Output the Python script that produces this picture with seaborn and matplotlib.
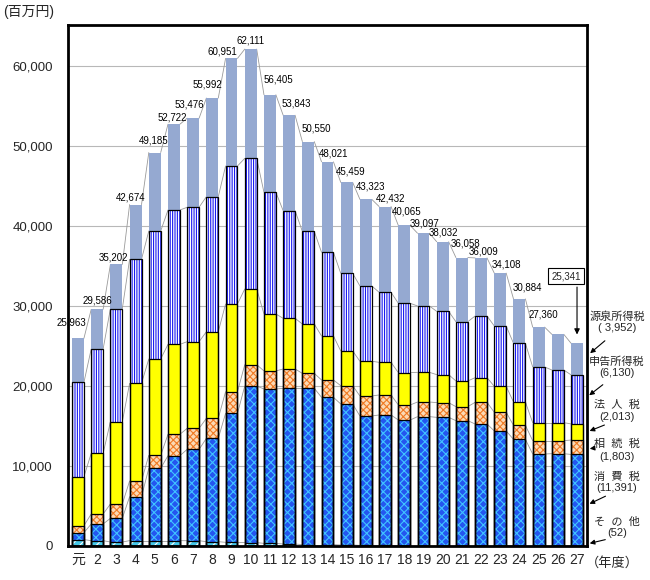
import numpy as np
import matplotlib.pyplot as plt
import seaborn as sns

# fiscal years (平成)
years = ['元', '2', '3', '4', '5', '6', '7', '8', '9', '10', '11', '12', '13', '14',
         '15', '16', '17', '18', '19', '20', '21', '22', '23', '24', '25', '26', '27']

# 百万円, bottom -> top
sonota = [800, 670, 500, 670, 670, 670, 660, 540, 460, 420, 330, 250, 170, 170,
          125, 80, 70, 60, 60, 60, 60, 60, 60, 55, 55, 55, 52]
shohi = [870, 2080, 2960, 5500, 9040, 10620, 11420, 12920, 16120, 19580, 19300, 19460, 19540, 18410,
         17625, 16170, 16310, 15690, 16110, 16020, 15610, 15190, 14320, 13275, 11445, 11485, 11391]
sozoku = [870, 1250, 1790, 1960, 1620, 2670, 2630, 2500, 2710, 2670, 2250, 2420, 1870, 2170,
          2290, 2500, 2500, 1880, 1830, 1840, 1750, 2710, 2330, 1750, 1670, 1630, 1803]
hojin = [6130, 7580, 10290, 12200, 12050, 11250, 10830, 10830, 10960, 9460, 7120, 6330, 6170, 5500,
         4340, 4340, 4080, 4040, 3710, 3500, 3210, 3080, 3250, 2920, 2250, 2250, 2013]
shinkoku = [11790, 13050, 14130, 15510, 16000, 16790, 16800, 16880, 17250, 16330, 15210, 13460, 11580, 10460,
            9710, 9410, 8750, 8670, 8290, 7910, 7410, 7710, 7540, 7330, 6960, 6580, 6130]
gensen = [5503, 4956, 5532, 6834, 9805, 10722, 11136, 12322, 13451, 13651, 12195, 11923, 11220, 11311,
          11369, 10823, 10722, 9725, 9097, 8702, 8018, 7259, 6608, 5554, 4980, 4460, 3952]

names = ['その他', '消費税', '相続税', '法人税', '申告所得税', '源泉所得税']
legend_names = ['そ  の  他', '消  費  税', '相  続  税', '法  人  税', '申告所得税', '源泉所得税']

sns.set_theme(style='white')
plt.rcParams['font.family'] = ['Liberation Sans', 'Noto Sans CJK JP']
plt.rcParams['hatch.linewidth'] = 0.8

series = np.array([sonota, shohi, sozoku, hojin, shinkoku, gensen])
cum = np.cumsum(series, axis=0)
n = len(years)
x = np.arange(n)
w = 0.62

# face colour, hatch colour, hatch, outlined
styles = [
    ('#45C8E8', 'white', '////', True),
    ('#2456F0', '#40C4FF', 'xxxx', True),
    ('#FCD9B4', '#F07A24', 'xxxxx', True),
    ('#FFFF00', '#FFFF00', None, True),
    ('white', '#1A1AF0', '|' * 7, True),
    ('#95A9D1', '#95A9D1', None, False),
]

fig = plt.figure(figsize=(6.5, 5.8), dpi=100)
ax = fig.add_axes([68 / 650, 34 / 580, 519 / 650, 521 / 580])

# draw the cumulative stacks from the top down so each covers the one above
for k in range(5, -1, -1):
    fc, hc, h, outline = styles[k]
    sns.barplot(x=years, y=cum[k], order=years, color=fc, saturation=1, width=w,
                edgecolor=hc, linewidth=0, hatch=h, errorbar=None, ax=ax, zorder=2)
    if outline:
        ax.bar(x, cum[k], width=w, fill=False, edgecolor='black', linewidth=0.9, zorder=3)

# series lines between bars
for k in range(6):
    for i in range(n - 1):
        ax.plot([i + w / 2, i + 1 - w / 2], [cum[k][i], cum[k][i + 1]],
                color='#9a9a9a', lw=0.6, zorder=1)

# total labels
offsets = [(-7, 16), (0, 9), (-3, 7), (-5, 7), (-1, 12), (-2, 7), (-4, 14), (-5, 14), (-9, 7),
           (0, 9), (8, 15), (7, 12), (8, 13), (6, 8), (4, 11), (5, 13), (5, 8), (2, 14),
           (1, 10), (1, 9), (4, 14), (3, 6), (6, 9), (8, 11), (5, 13)]
for i, (dx, dy) in enumerate(offsets):
    ax.annotate(f'{cum[5][i]:,}', xy=(i, cum[5][i]), xytext=(dx, dy), textcoords='offset pixels',
                ha='center', va='center', fontsize=7, color='black')

last = cum[5][-1]
ax.annotate(f'{last:,}', xy=(n - 1, last), xytext=(-11, 67), textcoords='offset pixels',
            ha='center', va='center', fontsize=7,
            bbox=dict(boxstyle='square,pad=0.3', fc='white', ec='black', lw=0.8))
ax.annotate('', xy=(n - 1, last + 6 * 125), xytext=(n - 1, last + 59 * 125),
            arrowprops=dict(arrowstyle='-|>', color='black', lw=0.8, mutation_scale=8))

ax.set_xlim(-0.52, n - 1 + 0.52)
ax.set_ylim(0, 65125)
ax.set_yticks(np.arange(0, 60001, 10000))
ax.set_yticklabels([f'{v:,}' for v in range(0, 60001, 10000)], fontsize=9.5)
ax.set_xticks(x)
ax.set_xticklabels(years, fontsize=10)
ax.tick_params(axis='y', length=0, pad=11)
ax.tick_params(axis='x', length=0, pad=5)
ax.set_xlabel('')
ax.set_ylabel('')
ax.set_axisbelow(True)
ax.yaxis.grid(True, color='#b8b8b8', lw=0.8)
ax.xaxis.grid(False)
for s in ax.spines.values():
    s.set_color('black')
    s.set_linewidth(2)

fig.text(3 / 650, 1 - 12 / 580, '(百万円)', ha='left', va='center', fontsize=10)
fig.text(586 / 650, 1 - 563 / 580, '（年度）', ha='left', va='center', fontsize=9.5)

# right-hand legend with arrows, top -> bottom
name_y = [317, 362, 405, 444, 477, 522]
val_y = [328, 373, 417, 457, 488, 533]
arrows = [((607, 339), (588, 355)), ((605, 383), (587, 397)), ((607, 424), (587, 432)),
          ((595, 448), (587, 449)), ((608, 495), (587, 505)), ((608, 539), (587, 544))]
for j in range(6):
    k = 5 - j
    v = series[k][-1]
    vtxt = f'( {v:,})' if k == 5 else f'({v:,})'
    fig.text(617 / 650, 1 - name_y[j] / 580, legend_names[k], ha='center', va='center', fontsize=8)
    fig.text(617 / 650, 1 - val_y[j] / 580, vtxt, ha='center', va='center', fontsize=8)
    (x0, y0), (x1, y1) = arrows[j]
    ax.annotate('', xy=(x1, 580 - y1), xycoords='figure pixels',
                xytext=(x0, 580 - y0), textcoords='figure pixels', annotation_clip=False,
                arrowprops=dict(arrowstyle='-|>', color='black', lw=0.8, mutation_scale=7))

fig.savefig('out.png', dpi=100)
